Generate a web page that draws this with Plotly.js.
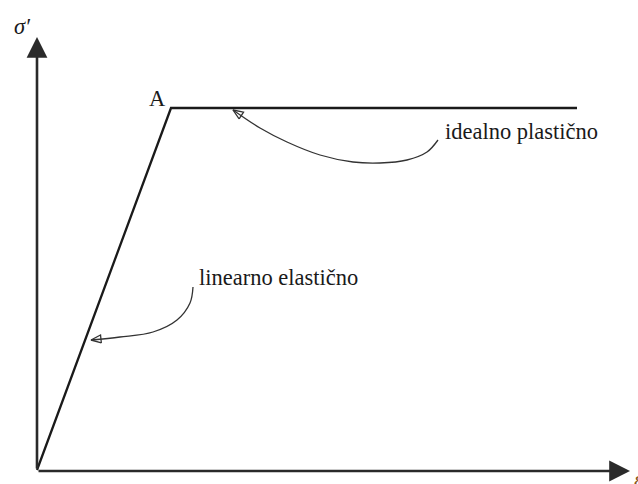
<!DOCTYPE html>
<html>
<head>
<meta charset="utf-8">
<script src="https://cdn.plot.ly/plotly-3.0.1.min.js"></script>
<style>html,body{margin:0;padding:0;background:#fff;}#chart{width:638px;height:484px;}</style>
</head>
<body>
<div id="chart"></div>
<script>
// Stress-strain diagram (units: picture units, origin at axis corner)
const strain = [0, 134, 540];
const stress = [0, 362, 362];

// axis extents (tips of arrows)
const axisStrainTip = 593;
const axisStressTip = 433;

// callout curve for "linearno elastično"
const elasticCurveX = [156, 153, 140, 116, 83, 54];
const elasticCurveY = [183, 167, 150, 138, 133, 130];

// callout curve for "idealno plastično"
const plasticCurveX = [401, 390, 370, 343, 316, 283, 250, 223, 196];
const plasticCurveY = [330, 318, 310, 307, 308, 315, 328, 342, 360];

// labels
const labelTexts = ["linearno elastično", "idealno plastično", "A", "σ′", "ε"];
const labelX = [160, 406, 131, -25, 595];
const labelY = [178, 324, 357, 429, -9];

function arrowHead(xs, ys, L, W) {
  const n = xs.length;
  const tx = xs[n - 1], ty = ys[n - 1];
  const px = xs[n - 2], py = ys[n - 2];
  let dx = tx - px, dy = ty - py;
  const len = Math.hypot(dx, dy);
  dx /= len; dy /= len;
  const nx = -dy, ny = dx;
  const bx = tx - L * dx, by = ty - L * dy;
  return {
    x: [bx + W * nx, tx, bx - W * nx, bx + W * nx],
    y: [by + W * ny, ty, by - W * ny, by + W * ny]
  };
}

const ah1 = arrowHead(elasticCurveX, elasticCurveY, 10, 4);
const ah2 = arrowHead(plasticCurveX, plasticCurveY, 10, 4);

const ink = '#1a1a1a';
const traces = [
  {x: strain, y: stress, mode: 'lines', line: {color: ink, width: 2.3}, hoverinfo: 'skip'},
  {x: elasticCurveX, y: elasticCurveY, mode: 'lines', line: {color: '#333', width: 1.3, shape: 'spline'}, hoverinfo: 'skip'},
  {x: plasticCurveX, y: plasticCurveY, mode: 'lines', line: {color: '#333', width: 1.3, shape: 'spline'}, hoverinfo: 'skip'},
  {x: ah1.x, y: ah1.y, mode: 'lines', line: {color: '#333', width: 1.3}, hoverinfo: 'skip'},
  {x: ah2.x, y: ah2.y, mode: 'lines', line: {color: '#333', width: 1.3}, hoverinfo: 'skip'}
];

const serif = 'Liberation Serif, Times New Roman, serif';
const annotations = [
  {x: 0, y: axisStressTip, ax: 0, ay: 0, axref: 'x', ayref: 'y', xref: 'x', yref: 'y',
   showarrow: true, arrowhead: 2, arrowsize: 1.6, arrowwidth: 2.6, arrowcolor: '#2a2a2a', text: '', standoff: 0},
  {x: axisStrainTip, y: -1, ax: 0, ay: -1, axref: 'x', ayref: 'y', xref: 'x', yref: 'y',
   showarrow: true, arrowhead: 2, arrowsize: 1.6, arrowwidth: 2.6, arrowcolor: '#2a2a2a', text: '', standoff: 0}
];
const anchors = [
  ['left', 'bottom'], ['left', 'bottom'], ['right', 'bottom'], ['left', 'bottom'], ['left', 'middle']
];
const italic = [false, false, false, true, true];
const colors = [ink, ink, ink, ink, '#8a5a20'];
for (let i = 0; i < labelTexts.length; i++) {
  annotations.push({
    x: labelX[i], y: labelY[i], xref: 'x', yref: 'y', showarrow: false,
    text: italic[i] ? '<i>' + labelTexts[i] + '</i>' : labelTexts[i],
    xanchor: anchors[i][0], yanchor: anchors[i][1],
    font: {family: serif, size: 22.5, color: colors[i]}
  });
}

const layout = {
  width: 638, height: 484,
  margin: {l: 0, r: 0, t: 0, b: 0},
  paper_bgcolor: '#fff', plot_bgcolor: '#fff',
  showlegend: false,
  xaxis: {range: [-37, 601], visible: false, fixedrange: true},
  yaxis: {range: [-14, 470], visible: false, fixedrange: true},
  annotations: annotations
};

Plotly.newPlot('chart', traces, layout, {displayModeBar: false, staticPlot: true});
</script>
</body>
</html>
